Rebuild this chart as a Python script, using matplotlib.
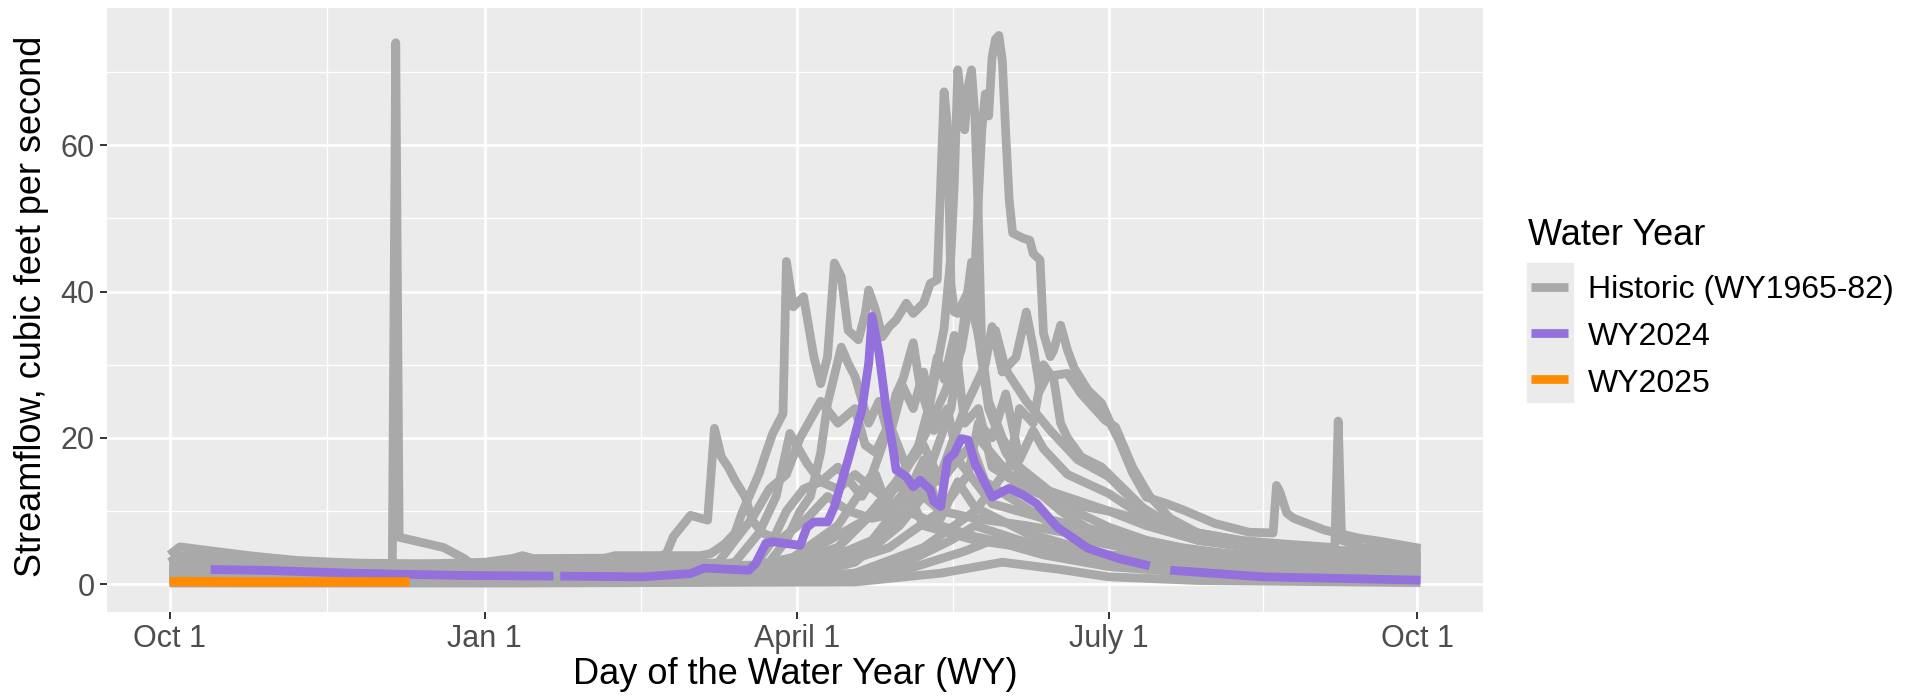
import numpy as np
import matplotlib.pyplot as plt
from matplotlib.lines import Line2D
from matplotlib.patches import Rectangle

plt.rcParams['font.family'] = ['Liberation Sans', 'DejaVu Sans']

# days since Oct 1 of the water year, streamflow in cfs
hist01 = [(0, 2.4), (10, 2.3), (30, 2.1), (60, 2.0), (92, 1.9), (120, 2.0), (150, 2.2), (170, 2.4),
          (180, 2.8), (195, 5.0), (205, 10), (212, 14), (220, 20), (226, 26), (231, 32), (235, 43),
          (237, 62), (238, 67), (239, 64), (240, 72), (241, 74.5), (242, 75), (243, 71.5), (244, 61.6),
          (245, 52.5), (246, 48), (249, 47.3), (251, 47), (252, 45.2), (254, 44.3), (255, 34.3),
          (257, 31.1), (258, 32), (260, 35.4), (262, 32), (264, 29.5), (268, 26.5), (272, 24.7),
          (275, 21.5), (277, 19.7), (281, 15.2), (285, 11.9), (291, 11), (296, 10.1), (305, 8.3),
          (315, 7.1), (322, 7.0), (323, 13.5), (324, 12.6), (326, 9.7), (328, 9.0), (337, 7.4),
          (347, 6.3), (354, 5.8), (365, 4.9)]
hist02 = [(0, 2.8), (15, 2.9), (40, 2.8), (70, 2.7), (92, 3.0), (100, 3.5), (103, 3.9), (106, 3.5),
          (127, 3.55), (130, 3.9), (155, 3.9), (158, 4.2), (162, 5.5), (165, 7.0), (167, 9.7),
          (172, 15.1), (174, 17.9), (176, 20.6), (177, 21.5), (179, 23.3), (180, 44.1), (182, 37.9),
          (185, 39.3), (188, 31.1), (190, 27.4), (192, 31.1), (194, 43.9), (196, 42), (198, 34.7),
          (201, 33.4), (203, 37), (204, 40.2), (206, 37.5), (208, 33.8), (210, 35.2), (212, 36.1),
          (215, 38.4), (217, 37), (220, 38.4), (222, 41.1), (224, 41.6), (226, 67.3), (227, 62.6),
          (228, 41), (229, 37.2), (230, 37), (233, 40), (237, 32), (241, 34.7), (244, 29.3),
          (250, 25), (257, 21), (265, 17), (274, 14.7), (282, 11), (290, 8.75), (300, 7),
          (315, 5.8), (330, 5), (345, 4.5), (365, 4.2)]
hist03 = [(0, 1.6), (20, 1.7), (50, 1.5), (92, 1.4), (130, 1.5), (165, 1.8), (180, 2.5), (195, 5),
          (210, 12), (218, 18), (222, 25), (226, 35), (228, 45), (229, 55), (230, 70.3), (231, 66),
          (232, 62.1), (233, 68), (234, 70.3), (235, 64), (236, 50), (237, 32), (239, 25), (243, 20),
          (248, 16), (256, 13), (264, 10), (274, 7.8), (285, 6), (300, 4.5), (325, 3.5), (365, 3.0)]
hist04 = [(0, 1.1), (30, 1.0), (92, 0.9), (150, 1.0), (180, 1.5), (195, 3), (205, 5.5), (215, 10),
          (222, 16), (228, 24), (231, 33), (234, 44), (236, 34), (239, 24), (244, 18), (250, 14),
          (260, 10), (270, 7), (280, 5), (300, 3.5), (330, 2.6), (365, 2.2)]
hist05 = [(0, 2.7), (20, 2.6), (50, 2.4), (92, 2.3), (130, 2.4), (170, 2.6), (175, 3), (180, 6),
          (184, 10), (187, 12), (190, 18), (192, 24.7), (196, 32.4), (198, 30.2), (200, 28.4),
          (204, 22), (207, 25), (210, 20), (214, 27), (217, 24), (220, 29), (223, 21), (227, 24),
          (230, 17), (234, 19), (238, 14), (248, 11), (258, 8), (268, 6), (278, 5), (295, 4),
          (320, 3.4), (365, 3.0)]
hist06 = [(0, 3.0), (3, 3.9), (15, 3.6), (30, 3.2), (45, 2.9), (60, 2.7), (80, 2.6), (100, 2.7),
          (120, 3.0), (140, 3.2), (145, 4.2), (147, 6.5), (152, 9.4), (157, 8.75), (159, 21.3),
          (161, 17.4), (163, 16), (165, 14.2), (168, 11.9), (170, 8.75), (173, 7), (178, 6),
          (186, 9), (192, 12), (198, 10), (205, 9), (215, 10), (225, 8), (235, 6.5), (250, 5),
          (265, 4), (280, 3), (310, 2.2), (335, 1.8), (365, 1.5)]
hist07 = [(0, 0.9), (30, 0.85), (92, 0.8), (150, 0.8), (185, 1.2), (200, 3), (213, 8), (225, 15),
          (232, 24), (238, 30), (240, 35.2), (243, 29), (247, 31), (250, 37.2), (252, 32.4),
          (254, 26.5), (256, 28.4), (262, 28.8), (266, 26), (273, 22.4), (276, 21.5), (281, 16),
          (286, 12), (292, 9), (300, 7), (312, 6), (325, 5.5), (340, 5.0), (341, 22.3), (342, 6),
          (348, 5), (365, 4.5)]
hist08 = [(0, 4.0), (3, 5.1), (13, 4.5), (24, 3.85), (37, 3.25), (57, 2.8), (65, 2.6), (66, 74),
          (67, 6.4), (69, 6.2), (80, 5.0), (86, 3.5), (89, 2.4), (95, 2.2), (130, 2.3), (170, 2.4),
          (185, 4), (200, 8), (215, 12), (228, 16), (236, 20), (245, 15), (255, 13), (274, 10),
          (290, 8), (310, 6), (335, 4.5), (365, 3.8)]
hist09 = [(0, 2.2), (20, 2.1), (60, 2.0), (92, 2.0), (140, 2.0), (175, 2.2), (190, 3), (205, 6),
          (215, 12), (220, 17), (225, 9), (230, 14), (235, 10.5), (250, 7), (265, 5), (274, 4),
          (300, 3), (330, 2.3), (365, 2.0)]
hist10 = [(0, 1.3), (30, 1.25), (92, 1.2), (150, 1.2), (190, 2), (210, 5), (225, 10), (233, 15),
          (236, 22), (240, 20), (244, 26), (248, 17), (252, 21), (255, 18.5), (262, 15), (274, 12.4),
          (285, 9), (295, 7), (315, 5), (340, 4), (365, 3.5)]
hist11 = [(0, 0.6), (40, 0.5), (92, 0.5), (160, 0.5), (195, 1), (215, 3), (228, 6), (235, 8),
          (248, 6), (262, 4.5), (274, 3.7), (300, 2.5), (330, 1.6), (365, 1.2)]
hist12 = [(0, 0.15), (100, 0.15), (200, 0.3), (225, 1.5), (243, 3), (260, 2), (274, 1), (300, 0.5),
          (365, 0.2)]
hist13 = [(0, 3.0), (3, 3.6), (20, 3.2), (50, 2.9), (92, 2.7), (130, 2.8), (160, 2.9), (165, 6),
          (170, 9), (175, 13), (180, 15), (184, 20), (190, 25), (195, 22), (200, 24), (203, 19),
          (206, 18), (210, 22), (215, 16), (220, 19), (225, 14), (230, 17), (240, 11), (255, 9),
          (274, 7), (295, 5), (320, 3.5), (365, 2.5)]
hist14 = [(0, 1.9), (40, 1.8), (92, 1.8), (150, 1.8), (165, 3), (172, 7), (177, 12), (181, 20.6),
          (186, 16.5), (190, 14), (195, 16), (202, 12), (206, 15), (210, 10), (215, 13), (220, 8),
          (235, 6), (250, 5), (274, 4), (300, 3), (330, 2.2), (365, 1.8)]
hist15 = [(0, 1.1), (40, 1.0), (92, 1.0), (160, 1.0), (170, 2), (176, 6), (180, 10), (185, 13),
          (190, 14), (195, 13), (200, 15), (208, 12), (215, 14), (225, 10), (235, 9), (250, 8),
          (274, 6), (300, 4.5), (330, 3.2), (365, 2.8)]
hist16 = [(0, 0.7), (40, 0.6), (92, 0.6), (170, 0.6), (200, 1.5), (220, 5), (235, 10), (245, 16),
          (248, 24), (252, 22), (255, 30), (258, 28), (260, 22), (262, 20), (266, 17.4), (272, 16),
          (285, 10), (300, 6), (330, 4), (365, 3.5)]
hist17 = [(0, 1.6), (40, 1.5), (92, 1.5), (170, 1.6), (180, 3), (195, 8), (205, 15), (208, 19),
          (210, 22), (212, 26), (214, 28), (217, 33), (219, 27), (221, 24), (224, 31), (226, 28),
          (229, 34), (232, 22), (236, 24), (240, 16), (250, 13), (262, 11), (274, 10), (285, 8),
          (300, 6), (325, 4.5), (365, 3.2)]
hist18 = [(0, 0.35), (60, 0.3), (150, 0.3), (190, 0.6), (215, 2), (232, 4.5), (240, 6), (255, 4),
          (274, 2.4), (300, 1.5), (330, 1.0), (365, 0.8)]

historic = [hist01, hist02, hist03, hist04, hist05, hist06, hist07, hist08, hist09,
            hist10, hist11, hist12, hist13, hist14, hist15, hist16, hist17, hist18]

nan = np.nan
wy2024_day = [12, 27, 53, 84, 112, 113, 114, 138, 152, 156, 169, 171, 174, 176, 184, 186, 188,
              192, 194, 198, 202, 204, 205, 207, 209, 211, 212, 215, 217, 219, 222, 223, 225,
              227, 229, 231, 233, 235, 240, 245, 249, 253, 259, 263, 268, 277, 286, 287, 292,
              319, 365]
wy2024_cfs = [2.0, 1.9, 1.5, 1.2, 1.1, nan, 1.1, 1.0, 1.45, 2.2, 1.9, 2.8, 5.6, 5.8, 5.3, 7.8, 8.5,
              8.5, 10.6, 17, 23.8, 30.2, 36.6, 31.6, 24.3, 18.8, 15.6, 14.7, 13.3, 14.2, 12.9, 11.3,
              10.6, 17, 17.9, 19.9, 19.7, 16.5, 11.9, 13.1, 12.2, 11.0, 7.8, 6.5, 4.9, 3.5, 2.5,
              nan, 1.9, 1.0, 0.55]

wy2025_day = [0, 20, 40, 60, 70]
wy2025_cfs = [0.35, 0.3, 0.3, 0.3, 0.3]

tick_days = [0, 92, 183, 274, 364]
tick_labels = ['Oct 1', 'Jan 1', 'April 1', 'July 1', 'Oct 1']

legend_labels = ['Historic (WY1965-82)', 'WY2024', 'WY2025']
line_colors = ['#A9A9A9', '#9370DB', '#FF8C00']

W, H = 1908, 696
fig = plt.figure(figsize=(W / 100, H / 100), dpi=100)
ax = fig.add_axes([107 / W, 1 - 611.6 / H, (1483 - 107) / W, (611.6 - 8) / H])
ax.set_facecolor('#EBEBEB')
for s in ax.spines.values():
    s.set_visible(False)

lw = 6.3
for hist in historic:
    d, v = zip(*hist)
    ax.plot(d, v, color=line_colors[0], lw=lw, solid_capstyle='butt', solid_joinstyle='round')
ax.plot(wy2024_day, wy2024_cfs, color=line_colors[1], lw=lw, solid_capstyle='butt',
        solid_joinstyle='round')
ax.plot(wy2025_day, wy2025_cfs, color=line_colors[2], lw=lw + 0.5, solid_capstyle='butt')

# ggplot style 5% expansion
all_days = [d for h in historic for d, _ in h] + wy2024_day + wy2025_day
all_cfs = [v for h in historic for _, v in h] + wy2025_cfs + list(np.nan_to_num(wy2024_cfs))
x0, x1 = min(all_days), max(all_days)
y0, y1 = min(all_cfs), max(all_cfs)
ax.set_xlim(x0 - 0.05 * (x1 - x0), x1 + 0.05 * (x1 - x0))
ax.set_ylim(y0 - 0.05 * (y1 - y0), y1 + 0.05 * (y1 - y0))

ax.set_xticks(tick_days, tick_labels)
ax.set_xticks([(a + b) / 2 for a, b in zip(tick_days[:-1], tick_days[1:])], minor=True)
ax.set_yticks([0, 20, 40, 60])
ax.set_yticks([10, 30, 50, 70], minor=True)
ax.grid(which='major', color='white', lw=1.9)
ax.grid(which='minor', color='white', lw=0.95)
ax.set_axisbelow(True)
ax.tick_params(which='major', length=5, width=1.4, color='#333333', labelsize=22,
               labelcolor='#4D4D4D', pad=4)
ax.tick_params(which='minor', length=0)


def fx(px):
    return px / W


def fy(py):
    return 1 - py / H


fig.text(fx(32), fy(306), 'Streamflow, cubic feet per second', rotation=90,
         ha='center', va='center', fontsize=26)
fig.text(fx(795), fy(684), 'Day of the Water Year (WY)', ha='center', va='baseline', fontsize=26)

# legend
fig.text(fx(1528), fy(245), 'Water Year', fontsize=26, va='baseline')
fig.patches.append(Rectangle((fx(1527), fy(402)), (1573 - 1527) / W, (402 - 263) / H,
                             transform=fig.transFigure, color='#EBEBEB', zorder=0))
for name, color, yc, yb in zip(legend_labels, line_colors, [286.7, 332.7, 379],
                               [298.3, 345, 391.7]):
    fig.add_artist(Line2D([fx(1531), fx(1568)], [fy(yc)] * 2, color=color, lw=lw,
                          solid_capstyle='butt'))
    fig.text(fx(1588), fy(yb), name, fontsize=23, va='baseline')

fig.savefig('out.png', dpi=100)
